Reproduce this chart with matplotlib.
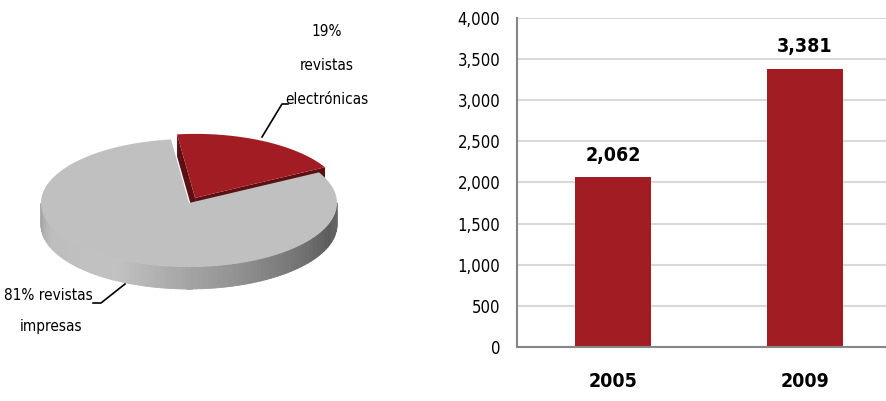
import numpy as np
import matplotlib
matplotlib.use("Agg")
import matplotlib.pyplot as plt
from matplotlib.patches import Polygon

plt.rcParams['font.family'] = ['DejaVu Sans']
plt.rcParams['font.stretch'] = 'condensed'

# pie data: share of journals
pie_labels = ['revistas impresas', 'revistas electrónicas']
pie_shares = [81, 19]

# bar data: number of journals per year
years = ['2005', '2009']
counts = [2062, 3381]

RED = '#a21d23'
RED_DARK = '#5c1014'
GREY_TOP = '#c0c0c0'

fig = plt.figure(figsize=(8.87, 4.01), dpi=100)

# ---- 3D-looking pie, drawn in pixel coordinates ----
ax_pie = fig.add_axes([0, 0, 420 / 887, 1])
ax_pie.set_xlim(0, 420)
ax_pie.set_ylim(401, 0)
ax_pie.axis('off')

RX, RY, DEPTH = 148, 64, 22
cx, cy = 189, 203
explode = 0.09


def arc(x0, y0, t0, t1, n=80):
    t = np.radians(np.linspace(t0, t1, n))
    return x0 + RX * np.cos(t), y0 - RY * np.sin(t)


start = 97.0
red_span = pie_shares[1] / sum(pie_shares) * 360
red_end = start - red_span
mid = np.radians((start + red_end) / 2)
rx0 = cx + explode * RX * np.cos(mid)
ry0 = cy - explode * RY * np.sin(mid)

# red slice: visible radial faces, then the top
for ang in (start, red_end):
    ex, ey = arc(rx0, ry0, ang, ang, 1)
    face = [(rx0, ry0), (ex[0], ey[0]), (ex[0], ey[0] + DEPTH), (rx0, ry0 + DEPTH)]
    ax_pie.add_patch(Polygon(face, closed=True, fc=RED_DARK, ec='none'))
xs, ys = arc(rx0, ry0, red_end, start)
ax_pie.add_patch(Polygon(np.column_stack([np.r_[rx0, xs], np.r_[ry0, ys]]),
                         closed=True, fc=RED, ec='none'))

# grey slice: shaded front side, then the top
side_t = np.linspace(-180, 0, 90)
shade = np.interp(side_t, [-180, -160, -120, -60, -20, 0],
                  [0.62, 0.74, 0.76, 0.52, 0.36, 0.40])
for i in range(len(side_t) - 1):
    xa, ya = arc(cx, cy, side_t[i], side_t[i + 1], 2)
    quad = [(xa[0], ya[0]), (xa[1], ya[1]), (xa[1], ya[1] + DEPTH), (xa[0], ya[0] + DEPTH)]
    g = shade[i]
    ax_pie.add_patch(Polygon(quad, closed=True, fc=(g, g, g), ec=(g, g, g), lw=0.6))
xs, ys = arc(cx, cy, start - 360, red_end, 240)
ax_pie.add_patch(Polygon(np.column_stack([np.r_[cx, xs], np.r_[cy, ys]]),
                         closed=True, fc=GREY_TOP, ec='none'))

# slice labels with leader lines
lab_kw = dict(ha='center', va='center', fontsize=11, color='black')
for yy, line in zip([31, 66, 100], [f"{pie_shares[1]}%", "revistas", "electrónicas"]):
    ax_pie.text(327, yy, line, **lab_kw)
ax_pie.plot([288, 282, 262], [104, 104, 137], color='black', lw=1.2)
ax_pie.text(48, 296, f"{pie_shares[0]}% revistas", **lab_kw)
ax_pie.text(51, 326, "impresas", **lab_kw)
ax_pie.plot([93, 101, 125], [303, 303, 284], color='black', lw=1.2)

# ---- bar chart ----
ax = fig.add_axes([517 / 887, 0.1347, 384 / 887, 0.8204])
x = np.arange(len(years))
ax.bar(x, counts, width=0.4, color=RED, zorder=3)
ax.set_xlim(-0.5, 1.5)
ax.set_ylim(0, 4000)
ax.set_yticks(np.arange(0, 4001, 500))
ax.set_yticklabels([f"{v:,}" for v in range(0, 4001, 500)], fontsize=12)
ax.set_xticks(x)
ax.set_xticklabels(years, fontsize=14, fontweight='bold')
ax.tick_params(axis='y', length=0, pad=12)
ax.tick_params(axis='x', length=0, pad=18)
ax.grid(axis='y', color='#d9d9d9', lw=1.5, zorder=0)
for s in ('top', 'right'):
    ax.spines[s].set_visible(False)
for s in ('left', 'bottom'):
    ax.spines[s].set_color('#868686')
    ax.spines[s].set_linewidth(1.5)
    ax.spines[s].set_zorder(4)

for xi, v in zip(x, counts):
    ax.annotate(f"{v:,}", (xi, v), xytext=(0, 16), textcoords='offset points',
                ha='center', va='center', fontsize=14, fontweight='bold')

fig.savefig('out.png', dpi=100)
